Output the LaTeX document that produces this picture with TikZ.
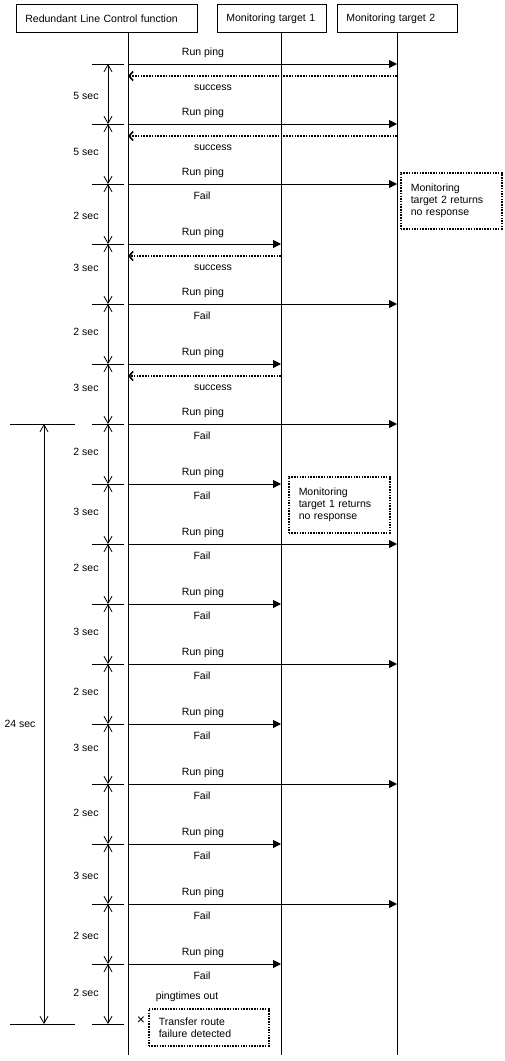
\documentclass[tikz,border=0pt]{standalone}
\usepackage{fontspec}
\setmainfont{Liberation Sans}
\usetikzlibrary{arrows.meta, positioning}

\tikzset{
  txt/.style={font=\fontsize{10.5}{12}\selectfont, inner sep=0pt},
  headbox/.style={draw, txt, line width=0.8pt, minimum height=28pt, inner xsep=9pt, align=left, anchor=north west},
  ping/.style={-{Triangle[length=8pt,width=8pt]}},
  reply/.style={line width=1.6pt, dash pattern=on 1.6pt off 1.2pt, -{Straight Barb[length=4pt,width=9pt,line width=1.6pt]}},
  span/.style={{Straight Barb[length=7pt,width=8pt]}-{Straight Barb[length=7pt,width=8pt]}},
  notebox/.style={draw, txt, line width=1.5pt, dash pattern=on 1.5pt off 1.2pt, inner xsep=10pt, align=left, anchor=north west},
}

\begin{document}
\begin{tikzpicture}[x=1pt, y=-1pt, line width=0.8pt]
  \useasboundingbox (0,0) rectangle (505,1061);
  % Heads of the lifelines
  \node[headbox, text width=163pt] (rlc) at (16,4) {Redundant Line Control function};
  \node[headbox, text width=91pt]  (mt1) at (217,4) {Monitoring target 1};
  \node[headbox, text width=102pt] (mt2) at (337,4) {Monitoring target 2};
  % Lifelines
  \foreach \n/\x in {rlc/128, mt1/281, mt2/397}{
    \coordinate (\n top) at (\x,32);
    \coordinate (\n end) at (\x,1055);
    \draw (\n top) -- (\n end);
  }
  % Run ping to one of the targets
  \foreach \y/\t in {64/397, 124/397, 184/397, 244/281, 304/397, 364/281, 424/397, 484/281,
                     544/397, 604/281, 664/397, 724/281, 784/397, 844/281, 904/397, 964/281}{
    \coordinate (p\y) at (128,\y);
    \coordinate (q\y) at (\t,\y);
    \draw[ping] (p\y) -- (q\y);
    \node[txt] (run\y) at (203,\y-11) {Run ping};
  }
  % Answers
  \foreach \y/\t in {76/397, 136/397, 256/281, 376/281}{
    \coordinate (a\y) at (\t,\y);
    \coordinate (b\y) at (128,\y);
    \draw[reply] (a\y) -- (b\y);
    \node[txt] (ok\y) at (213,\y+12) {success};
  }
  \foreach \y in {184, 304, 424, 484, 544, 604, 664, 724, 784, 844, 904, 964}{
    \node[txt] (fail\y) at (202,\y+12) {Fail};
  }
  % Time between two pings
  \foreach \y in {64,124,...,1024}{
    \coordinate (tl\y) at (92,\y);
    \coordinate (tr\y) at (124,\y);
    \draw (tl\y) -- (tr\y);
  }
  \foreach \a/\b/\s/\ly in {64/124/5/96, 124/184/5/152, 184/244/2/216, 244/304/3/268,
                            304/364/2/332, 364/424/3/388, 424/484/2/452, 484/544/3/512,
                            544/604/2/568, 604/664/3/632, 664/724/2/692, 724/784/3/748,
                            784/844/2/813, 844/904/3/876, 904/964/2/936, 964/1024/2/993}{
    \coordinate (ia\a) at (108,\a);
    \coordinate (ib\a) at (108,\b);
    \draw[span] (ia\a) -- (ib\a);
    \node[txt] (sec\a) at (86,\ly) {\s\ sec};
  }
  % Whole detection time
  \coordinate (wl1) at (10,424);
  \coordinate (wr1) at (75,424);
  \coordinate (wl2) at (10,1024);
  \coordinate (wr2) at (75,1024);
  \draw (wl1) -- (wr1);
  \draw (wl2) -- (wr2);
  \coordinate (wa) at (44,424);
  \coordinate (wb) at (44,1024);
  \draw[span] (wa) -- (wb);
  \node[txt] (total) at (20,724) {24 sec};
  % Notes
  \node[notebox, minimum width=101pt, minimum height=56pt, text width=81pt] (noteA) at (400,172)
    {Monitoring\\target 2 returns\\no response};
  \node[notebox, minimum width=101pt, minimum height=56pt, text width=81pt] (noteB) at (288,476)
    {Monitoring\\target 1 returns\\no response};
  \node[txt] (timeout) at (187,997) {pingtimes out};
  \node[txt, font=\fontsize{14}{14}\selectfont] (cross) at (141,1021) {×};
  \node[notebox, minimum width=120pt, minimum height=37pt, text width=100pt] (noteC) at (148,1008)
    {Transfer route\\failure detected};
\end{tikzpicture}
\end{document}
